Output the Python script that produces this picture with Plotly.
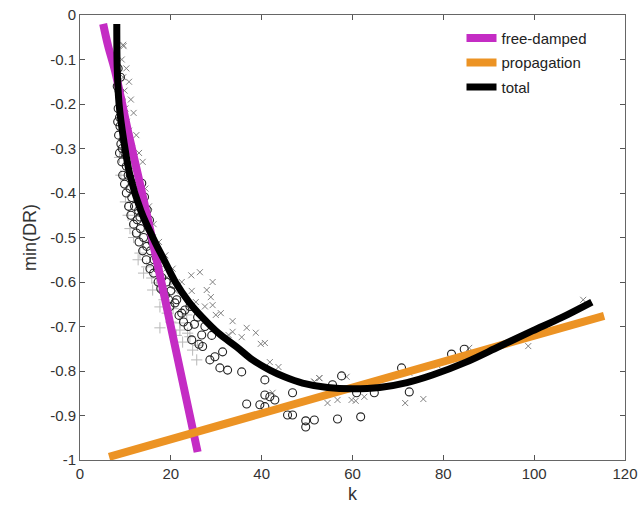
import plotly.graph_objects as go

# ---- data ----
circ_x = [8.4, 8.9, 8.6, 9.0, 8.4, 9.4, 8.3, 8.8, 8.5, 9.6, 9.0, 8.7, 9.9, 9.2, 10.2, 9.4, 10.6, 9.8,
          11.0, 10.2, 11.4, 10.7, 12.0, 11.2, 12.6, 11.8, 13.3, 12.4, 14.0, 13.0, 14.7, 13.8, 15.5, 14.6,
          16.3, 15.4, 17.1, 16.2, 18.0, 17.2, 19.0, 18.3, 20.0, 19.5, 21.3, 20.9, 23.1, 22.4, 24.6, 26.8,
          25.9, 28.6, 29.7, 30.8, 32.5, 35.6, 31.4, 27.5, 29.0, 40.7, 36.7, 39.6, 40.7, 40.7, 41.8, 42.9,
          46.8, 45.7, 46.8, 49.7, 49.7, 51.6, 56.7, 61.8, 57.6, 55.6, 60.9, 64.8, 70.8, 72.5, 81.8, 84.6,
          8.2, 8.7, 9.3, 13.2, 14.8, 15.3, 14.2, 13.6,
          17.8, 18.8, 19.8, 21.8, 22.8, 23.8, 24.2, 25.2, 26.2, 27.0, 20.6, 16.8, 15.9, 12.9, 11.6]
circ_y = [-0.12, -0.14, -0.17, -0.19, -0.21, -0.22, -0.24, -0.25, -0.27, -0.28, -0.29, -0.31, -0.31, -0.33,
          -0.34, -0.36, -0.36, -0.38, -0.39, -0.40, -0.41, -0.43, -0.43, -0.45, -0.46, -0.47, -0.48, -0.49,
          -0.50, -0.51, -0.52, -0.53, -0.53, -0.55, -0.55, -0.57, -0.57, -0.58, -0.59, -0.60, -0.60, -0.62,
          -0.62, -0.64, -0.64, -0.647, -0.663, -0.67, -0.73, -0.719, -0.679, -0.775, -0.768, -0.793, -0.798,
          -0.802, -0.757, -0.70, -0.72, -0.82, -0.874, -0.876, -0.88, -0.854, -0.858, -0.865, -0.849, -0.899,
          -0.899, -0.912, -0.926, -0.91, -0.908, -0.903, -0.811, -0.831, -0.849, -0.849, -0.793, -0.847,
          -0.762, -0.751, -0.16, -0.23, -0.30, -0.454, -0.438, -0.461, -0.409, -0.378,
          -0.615, -0.63, -0.655, -0.675, -0.69, -0.70, -0.655, -0.695, -0.74, -0.745, -0.605, -0.545,
          -0.51, -0.44, -0.37]

cross_x = [9.6, 9.2, 10.2, 9.5, 10.8, 9.8, 11.2, 10.0, 11.8, 10.3, 10.8, 12.4, 10.6, 11.4, 13.0, 11.2,
           12.0, 13.8, 12.0, 13.0, 14.4, 12.8, 13.8, 15.2, 13.8, 14.8, 16.2, 14.9, 16.0, 17.4, 16.2, 17.4,
           18.8, 17.6, 19.0, 20.4, 19.2, 20.6, 22.4, 21.0, 22.6, 24.6, 28.8, 29.2, 29.9, 33.6, 33.6, 32.7,
           36.7, 38.7, 35.6, 39.8, 40.7, 41.8, 43.7, 51.6, 52.7, 54.5, 42.4, 56.7, 59.8, 60.7, 62.6, 58.7,
           71.6, 75.6, 72.5, 78.7, 85.7, 98.7, 110.8, 27.5, 31.0, 25.5, 26.4, 29.2, 27.9, 24.5, 9.5, 52.7,
           51.6]
cross_y = [-0.07, -0.10, -0.12, -0.14, -0.15, -0.17, -0.19, -0.21, -0.22, -0.24, -0.26, -0.27, -0.29, -0.30,
           -0.31, -0.33, -0.34, -0.33, -0.37, -0.38, -0.39, -0.41, -0.42, -0.43, -0.44, -0.46, -0.47, -0.48,
           -0.50, -0.51, -0.52, -0.54, -0.54, -0.56, -0.57, -0.57, -0.59, -0.60, -0.60, -0.62, -0.63, -0.62,
           -0.634, -0.652, -0.674, -0.688, -0.712, -0.719, -0.703, -0.714, -0.724, -0.739, -0.737, -0.78,
           -0.791, -0.824, -0.816, -0.872, -0.849, -0.865, -0.865, -0.867, -0.858, -0.813, -0.872, -0.863,
           -0.804, -0.787, -0.748, -0.744, -0.64, -0.655, -0.67, -0.645, -0.578, -0.60, -0.618, -0.585,
           -0.067, -0.816, -0.824]

plus_x = [10.0, 10.6, 11.0, 11.8, 13.2, 14.7, 15.8, 16.0, 16.9, 17.6, 17.6, 18.5, 19.2, 20.0, 22.0, 24.2,
          25.7, 23.5, 22.0, 22.6, 24.8, 23.7, 25.9, 9.0, 8.7, 12.8, 14.0, 20.5, 21.2]
plus_y = [-0.42, -0.45, -0.48, -0.50, -0.535, -0.566, -0.591, -0.618, -0.602, -0.656, -0.703, -0.64, -0.67,
          -0.69, -0.708, -0.723, -0.775, -0.674, -0.692, -0.735, -0.753, -0.715, -0.742, -0.36, -0.32, -0.55,
          -0.58, -0.66, -0.72]

free_x = [5.1, 6.2, 7.7, 10.5, 13.0, 15.0, 20.0, 25.9]
free_y = [-0.02, -0.07, -0.125, -0.258, -0.37, -0.461, -0.70, -0.982]

prop_x = [6.4, 115.4]
prop_y = [-0.993, -0.676]

total_x = [8.1, 8.2, 8.6, 9.6, 11.0, 13.4, 16.5, 18.5, 21.0, 24.0, 27.0, 30.5, 34.5, 38.0, 41.8,
           45.0, 49.0, 54.5, 60.0, 66.0, 72.0, 77.6, 85.0, 92.3, 99.6, 106.0, 112.7]
total_y = [-0.02, -0.12, -0.20, -0.28, -0.36, -0.44, -0.51, -0.55, -0.60, -0.645, -0.68, -0.715,
           -0.746, -0.775, -0.798, -0.813, -0.827, -0.837, -0.84, -0.837, -0.826, -0.809, -0.78, -0.745,
           -0.71, -0.68, -0.645]

x_ticks = [0, 20, 40, 60, 80, 100, 120]
y_ticks = [0, -0.1, -0.2, -0.3, -0.4, -0.5, -0.6, -0.7, -0.8, -0.9, -1]
y_tick_text = ["0", "-0.1", "-0.2", "-0.3", "-0.4", "-0.5", "-0.6", "-0.7", "-0.8", "-0.9", "-1"]

fig = go.Figure()
fig.add_trace(go.Scatter(x=plus_x, y=plus_y, mode="markers", showlegend=False,
                         marker=dict(symbol="cross-thin-open", size=8, color="#b8b8b8",
                                     line=dict(width=1, color="#b8b8b8"))))
fig.add_trace(go.Scatter(x=cross_x, y=cross_y, mode="markers", showlegend=False,
                         marker=dict(symbol="x-thin-open", size=6, color="#808080",
                                     line=dict(width=1, color="#808080"))))
fig.add_trace(go.Scatter(x=circ_x, y=circ_y, mode="markers", showlegend=False,
                         marker=dict(symbol="circle-open", size=8, color="#222222",
                                     line=dict(width=1.1, color="#222222"))))
fig.add_trace(go.Scatter(x=free_x, y=free_y, mode="lines", name="free-damped", legendgroup="a",
                         line=dict(color="#C42CC4", width=8, shape="spline")))
fig.add_trace(go.Scatter(x=prop_x, y=prop_y, mode="lines", name="propagation", legendgroup="b",
                         line=dict(color="#EC9324", width=8)))
fig.add_trace(go.Scatter(x=total_x, y=total_y, mode="lines", name="total", legendgroup="c",
                         line=dict(color="#000000", width=7, shape="spline")))

axis_common = dict(showgrid=False, zeroline=False, ticks="inside", ticklen=5, tickwidth=1,
                   tickcolor="#555555", showline=True, linecolor="#666666", linewidth=1,
                   mirror="ticks", automargin=False,
                   tickfont=dict(family="Liberation Sans, Arial", size=15, color="#333333"))

fig.update_layout(
    width=640, height=509,
    margin=dict(l=80, r=15, t=15, b=49, autoexpand=False),
    paper_bgcolor="white", plot_bgcolor="white",
    font=dict(family="Liberation Sans, Arial", size=15, color="#333333"),
    xaxis=dict(range=[0, 120], tickvals=x_ticks, title=dict(text="k", standoff=6), **axis_common),
    yaxis=dict(range=[-1, 0], tickvals=y_ticks, ticktext=y_tick_text,
               title=dict(text="min(DR)", standoff=8), **axis_common),
    legend=dict(x=0.70, y=0.985, xanchor="left", yanchor="top", bgcolor="rgba(255,255,255,0)",
                font=dict(family="Liberation Sans, Arial", size=15, color="#222222"),
                tracegroupgap=2, itemwidth=30),
)

fig.write_html("out.html", config={"displayModeBar": False},
               post_script="document.body.style.margin='0';")
